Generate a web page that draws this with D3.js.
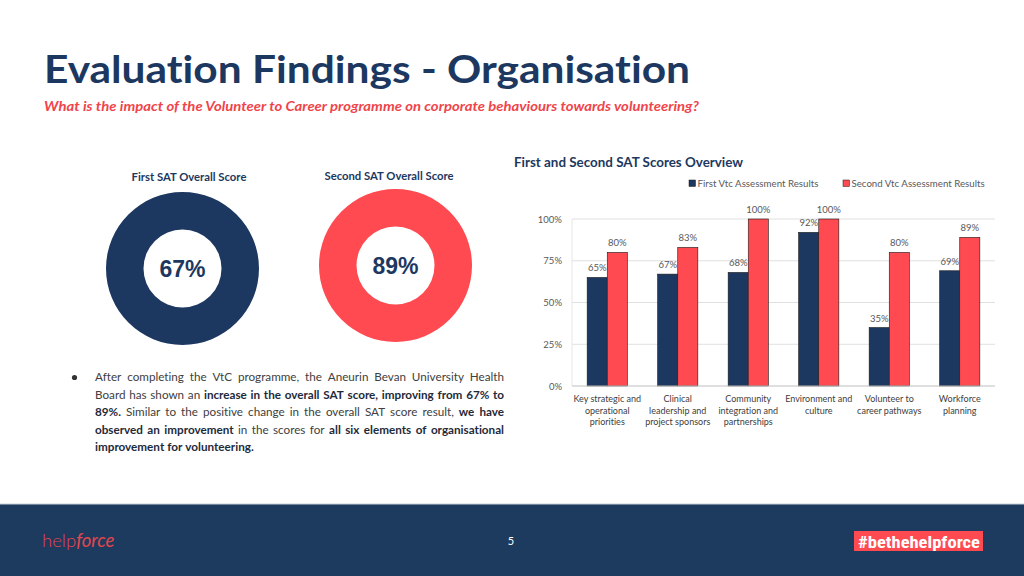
<!DOCTYPE html>
<html>
<head>
<meta charset="utf-8">
<script src="https://cdnjs.cloudflare.com/ajax/libs/d3/7.8.5/d3.min.js"></script>
<style>
  html, body { margin: 0; padding: 0; background: #fff; }
  svg { display: block; }
  text { font-variant-ligatures: none; }
</style>
</head>
<body>
<svg id="chart" width="1024" height="576"></svg>
<script>
// ---------- DATA ----------
const categories = [
  "Key strategic and operational priorities",
  "Clinical leadership and project sponsors",
  "Community integration and partnerships",
  "Environment and culture",
  "Volunteer to career pathways",
  "Workforce planning"
];
const categoryLines = [
  ["Key strategic and", "operational", "priorities"],
  ["Clinical", "leadership and", "project sponsors"],
  ["Community", "integration and", "partnerships"],
  ["Environment and", "culture"],
  ["Volunteer to", "career pathways"],
  ["Workforce", "planning"]
];
const seriesNames = ["First Vtc Assessment Results", "Second Vtc Assessment Results"];
const firstScores = [0.65, 0.67, 0.68, 0.92, 0.35, 0.69];
const secondScores = [0.80, 0.83, 1.00, 1.00, 0.80, 0.89];
const yTicks = [0, 0.25, 0.5, 0.75, 1];
const overallTitles = ["First SAT Overall Score", "Second SAT Overall Score"];
const overallScores = [0.67, 0.89];

// ---------- STYLE ----------
const NAVY = "#1d3860";
const RED = "#fe4a50";
const GREY = "#595959";
const CAL = "Lato, 'Open Sans', sans-serif";

const svg = d3.select("#chart");
svg.append("rect").attr("width", 1024).attr("height", 576).attr("fill", "#fff");

// ---------- HEADER ----------
svg.append("text")
  .attr("x", 44).attr("y", 83)
  .attr("font-family", CAL).attr("font-weight", 700).attr("font-size", 38)
  .attr("fill", NAVY)
  .attr("textLength", 646).attr("lengthAdjust", "spacingAndGlyphs")
  .text("Evaluation Findings - Organisation");

svg.append("text")
  .attr("x", 44).attr("y", 111)
  .attr("font-family", CAL).attr("font-weight", 700).attr("font-style", "italic").attr("font-size", 13)
  .attr("fill", "#f0444a")
  .attr("textLength", 655).attr("lengthAdjust", "spacingAndGlyphs")
  .text("What is the impact of the Volunteer to Career programme on corporate behaviours towards volunteering?");

// ---------- DONUTS ----------
const donutCenters = [[182.5, 268.5], [395.5, 265.5]];
const donutTitlePos = [[189, 181], [389, 180]];
const donutColors = [NAVY, RED];
const arc = d3.arc().innerRadius(39).outerRadius(76.5);
const pie = d3.pie().sort(null).value(d => d);

overallScores.forEach((v, i) => {
  const g = svg.append("g").attr("transform", `translate(${donutCenters[i][0]},${donutCenters[i][1]})`);
  g.selectAll("path").data(pie([1])).join("path")
    .attr("d", arc).attr("fill", donutColors[i]);
  g.append("text")
    .attr("text-anchor", "middle").attr("dy", "0.36em")
    .attr("font-family", "'Liberation Sans', Arial, sans-serif").attr("font-weight", 700).attr("font-size", 23)
    .attr("fill", NAVY)
    .text(d3.format(".0%")(v));
  svg.append("text")
    .attr("x", donutTitlePos[i][0]).attr("y", donutTitlePos[i][1])
    .attr("text-anchor", "middle")
    .attr("font-family", CAL).attr("font-weight", 700).attr("font-size", 11.3)
    .attr("fill", NAVY)
    .text(overallTitles[i]);
});

// ---------- BAR CHART ----------
const plot = { left: 572, right: 995, top: 219, bottom: 386 };
const y = d3.scaleLinear().domain([0, 1]).range([plot.bottom, plot.top]);
const x0 = d3.scaleBand().domain(categories).range([plot.left, plot.right]).padding(0);
const bw = x0.bandwidth();
const x1 = d3.scaleBand().domain(seriesNames).range([bw * 0.215, bw * 0.785]).padding(0);

svg.append("text")
  .attr("x", 514).attr("y", 167)
  .attr("font-family", CAL).attr("font-weight", 700).attr("font-size", 13.4)
  .attr("fill", NAVY)
  .text("First and Second SAT Scores Overview");

// gridlines
svg.append("g").selectAll("line").data(yTicks.filter(t => t > 0)).join("line")
  .attr("x1", plot.left).attr("x2", plot.right)
  .attr("y1", d => y(d)).attr("y2", d => y(d))
  .attr("stroke", "#e0e0e0").attr("stroke-width", 1);
// left border line
svg.append("line")
  .attr("x1", plot.left).attr("x2", plot.left).attr("y1", plot.top).attr("y2", plot.bottom)
  .attr("stroke", "#e6e6e6");

// y axis labels
const yAxis = d3.axisLeft(y).tickValues(yTicks).tickFormat(d3.format(".0%")).tickSize(0).tickPadding(10);
const yg = svg.append("g").attr("transform", `translate(${plot.left},0)`).call(yAxis);
yg.select(".domain").remove();
yg.selectAll("text").attr("font-family", CAL).attr("font-size", 9.5).attr("fill", GREY);

// bars
const table = categories.map((c, i) => ({ cat: c, vals: [firstScores[i], secondScores[i]] }));
const colors = d3.scaleOrdinal().domain(seriesNames).range([NAVY, RED]);
const groups = svg.append("g").selectAll("g").data(table).join("g")
  .attr("transform", d => `translate(${x0(d.cat)},0)`);
groups.selectAll("rect").data(d => d.vals.map((v, k) => ({ s: seriesNames[k], v }))).join("rect")
  .attr("x", d => x1(d.s)).attr("width", x1.bandwidth())
  .attr("y", d => y(d.v)).attr("height", d => y(0) - y(d.v))
  .attr("fill", d => colors(d.s))
  .attr("stroke", "#1a1a1a").attr("stroke-width", 0.6);
groups.selectAll("text.val").data(d => d.vals.map((v, k) => ({ s: seriesNames[k], v }))).join("text")
  .attr("class", "val")
  .attr("x", d => x1(d.s) + x1.bandwidth() / 2)
  .attr("y", d => y(d.v) - 6)
  .attr("text-anchor", "middle")
  .attr("font-family", CAL).attr("font-size", 9.5).attr("fill", GREY)
  .text(d => d3.format(".0%")(d.v));

// baseline
svg.append("line")
  .attr("x1", plot.left).attr("x2", plot.right).attr("y1", y(0)).attr("y2", y(0))
  .attr("stroke", "#bfbfbf").attr("stroke-width", 1);

// category labels
categories.forEach((c, i) => {
  const t = svg.append("text")
    .attr("text-anchor", "middle")
    .attr("font-family", CAL).attr("font-size", 9).attr("fill", "#404040");
  categoryLines[i].forEach((ln, j) => {
    t.append("tspan").attr("x", x0(c) + bw / 2).attr("y", 402 + j * 11.7).text(ln);
  });
});

// legend
const legendX = [689, 843];
seriesNames.forEach((s, i) => {
  svg.append("rect").attr("x", legendX[i]).attr("y", 180).attr("width", 6.5).attr("height", 6.5)
    .attr("fill", colors(s)).attr("stroke", "#1a1a1a").attr("stroke-width", 0.5);
  svg.append("text").attr("x", legendX[i] + 8.5).attr("y", 187)
    .attr("font-family", CAL).attr("font-size", 9.7).attr("fill", GREY).text(s);
});

// ---------- PARAGRAPH (justified) ----------
const paraLines = [
  [["After completing the VtC programme, the Aneurin Bevan University Health", false]],
  [["Board has shown an", false], ["increase in the overall SAT score, improving from 67% to", true]],
  [["89%.", true], ["Similar to the positive change in the overall SAT score result,", false], ["we have", true]],
  [["observed an improvement", true], ["in the scores for", false], ["all six elements of organisational", true]],
  [["improvement for volunteering.", true]]
];
const paraLeft = 95, paraRight = 504, paraTop = 381, paraLH = 17.6;
svg.append("circle").attr("cx", 74.5).attr("cy", 377.5).attr("r", 2.6).attr("fill", "#333");
paraLines.forEach((segs, li) => {
  const words = [];
  segs.forEach(([txt, b]) => txt.split(" ").forEach(w => words.push({ w, b })));
  const g = svg.append("g");
  const nodes = words.map(d => g.append("text")
    .attr("y", paraTop + li * paraLH)
    .attr("font-family", CAL).attr("font-size", 11.7)
    .attr("font-weight", d.b ? 700 : 400)
    .attr("fill", d.b ? "#1f2a3a" : "#404040")
    .text(d.w));
  const widths = nodes.map(n => n.node().getComputedTextLength());
  const total = d3.sum(widths);
  const last = li === paraLines.length - 1;
  const gap = last ? 3 : (paraRight - paraLeft - total) / (words.length - 1);
  let xx = paraLeft;
  nodes.forEach((n, k) => { n.attr("x", xx); xx += widths[k] + gap; });
});

// ---------- FOOTER ----------
svg.append("rect").attr("x", 0).attr("y", 504).attr("width", 1024).attr("height", 72).attr("fill", "#1d3a5f");
svg.append("line").attr("x1", 0).attr("x2", 1024).attr("y1", 504).attr("y2", 504).attr("stroke", "#c8d2de").attr("stroke-width", 1.2);
const logo = svg.append("text").attr("x", 42).attr("y", 547)
  .attr("font-family", CAL).attr("font-size", 18.5).attr("fill", "#e2474d");
logo.append("tspan").attr("font-weight", 300).text("help");
logo.append("tspan").attr("font-style", "italic").attr("font-weight", 400).text("force");
svg.append("text").attr("x", 511).attr("y", 545).attr("text-anchor", "middle")
  .attr("font-family", CAL).attr("font-size", 11).attr("fill", "#fff").text("5");
svg.append("rect").attr("x", 854).attr("y", 531).attr("width", 129).attr("height", 20).attr("fill", RED);
svg.append("text").attr("x", 858).attr("y", 547.5)
  .attr("font-family", "'Liberation Sans Narrow', 'Roboto Condensed', 'Liberation Sans', sans-serif")
  .attr("font-weight", 700).attr("font-size", 17).attr("fill", "#fff")
  .attr("textLength", 122).attr("lengthAdjust", "spacingAndGlyphs")
  .text("#bethehelpforce");
</script>
</body>
</html>
